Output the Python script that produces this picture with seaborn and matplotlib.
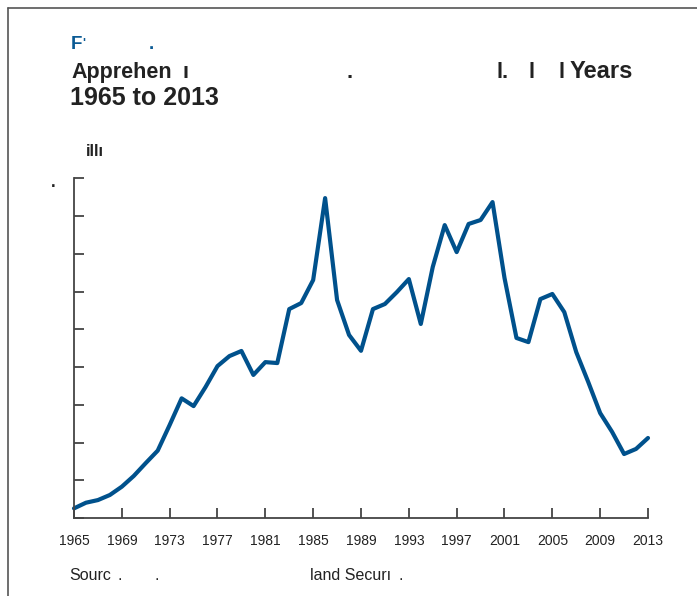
"""
Border apprehensions, 1965 to 2013 - single line chart.
"""

import pandas as pd
import matplotlib.pyplot as plt
import seaborn as sns
from matplotlib.lines import Line2D

# values in millions
years = list(range(1965, 2014))
apprehensions = [
    0.051, 0.081, 0.095, 0.122, 0.166, 0.223, 0.291, 0.357, 0.493, 0.634,
    0.593, 0.694, 0.805, 0.858, 0.885, 0.758, 0.826, 0.821, 1.107, 1.139,
    1.261, 1.695, 1.155, 0.970, 0.886, 1.107, 1.134, 1.197, 1.266, 1.028,
    1.330, 1.552, 1.409, 1.558, 1.579, 1.674, 1.272, 0.954, 0.932, 1.160,
    1.187, 1.091, 0.879, 0.721, 0.556, 0.456, 0.339, 0.366, 0.424,
]
x_ticks = list(range(1965, 2014, 4))
y_ticks = [0.0, 0.2, 0.4, 0.6, 0.8, 1.0, 1.2, 1.4, 1.6, 1.8]

BLUE_TXT = "#0a5a94"
DARK = "#222222"
# visible text fragments: (text, x px, baseline y px, size, bold, colour)
title_bits = [
    ("F", 71, 49, 13.5, True, BLUE_TXT),
    ("'", 82, 47, 9, True, BLUE_TXT),
    (".", 149, 49, 13.5, True, BLUE_TXT),
    ("Apprehen", 71, 78, 15.5, True, DARK),
    ("ı", 183, 78, 15.5, True, DARK),
    (".", 347, 78, 15.5, True, DARK),
    ("l.", 497, 78, 15.5, True, DARK),
    ("l", 529, 78, 15.5, True, DARK),
    ("l", 558, 78, 15.5, True, DARK),
    ("Years", 570, 78, 17, True, DARK),
    ("1965 to 2013", 70, 105, 18, True, DARK),
    ("illı", 86, 156, 12, True, DARK),
    (".", 51, 187, 12, True, DARK),
]
source_bits = [
    ("Sourc", 69, 580),
    (".", 117, 580),
    (".", 154, 580),
    ("land Securı", 310, 580),
    (".", 398, 580),
]

LINE_BLUE = "#00518c"
AXIS_GRAY = "#444444"
W, H = 697, 596

sns.set_style("ticks")
plt.rcParams["font.family"] = ["Liberation Sans", "DejaVu Sans"]

fig = plt.figure(figsize=(W / 100, H / 100), dpi=100)
ax = fig.add_axes([74 / W, 1 - 518 / H, (648 - 74) / W, (518 - 178.3) / H])

df = pd.DataFrame({"year": years, "apprehensions": apprehensions})
sns.lineplot(data=df, x="year", y="apprehensions", color=LINE_BLUE,
             linewidth=3, ax=ax, clip_on=False)

ax.set_xlim(1965, 2013)
ax.set_ylim(0, 1.8)
ax.set_xticks(x_ticks)
ax.set_yticks(y_ticks)
ax.set_yticklabels([])
ax.set_xlabel("")
ax.set_ylabel("")
ax.tick_params(direction="in", length=7, width=1.3, color=AXIS_GRAY)
ax.tick_params(axis="x", labelsize=10, pad=11.5, labelcolor=DARK)
sns.despine(ax=ax)
for side in ("left", "bottom"):
    ax.spines[side].set_color(AXIS_GRAY)
    ax.spines[side].set_linewidth(1.3)

for txt, x, y, size, bold, col in title_bits:
    fig.text(x / W, 1 - y / H, txt, fontsize=size, color=col,
             fontweight="bold" if bold else "normal", va="baseline")
for txt, x, y in source_bits:
    fig.text(x / W, 1 - y / H, txt, fontsize=11.5, color=DARK, va="baseline")

# box lines on the left and top edge
fig.add_artist(Line2D([8 / W, 8 / W], [0, 1 - 8 / H], transform=fig.transFigure,
                      color="#555555", linewidth=1.2))
fig.add_artist(Line2D([8 / W, 1], [1 - 8 / H, 1 - 8 / H], transform=fig.transFigure,
                      color="#555555", linewidth=1.2))

fig.savefig("out.png", dpi=100)
